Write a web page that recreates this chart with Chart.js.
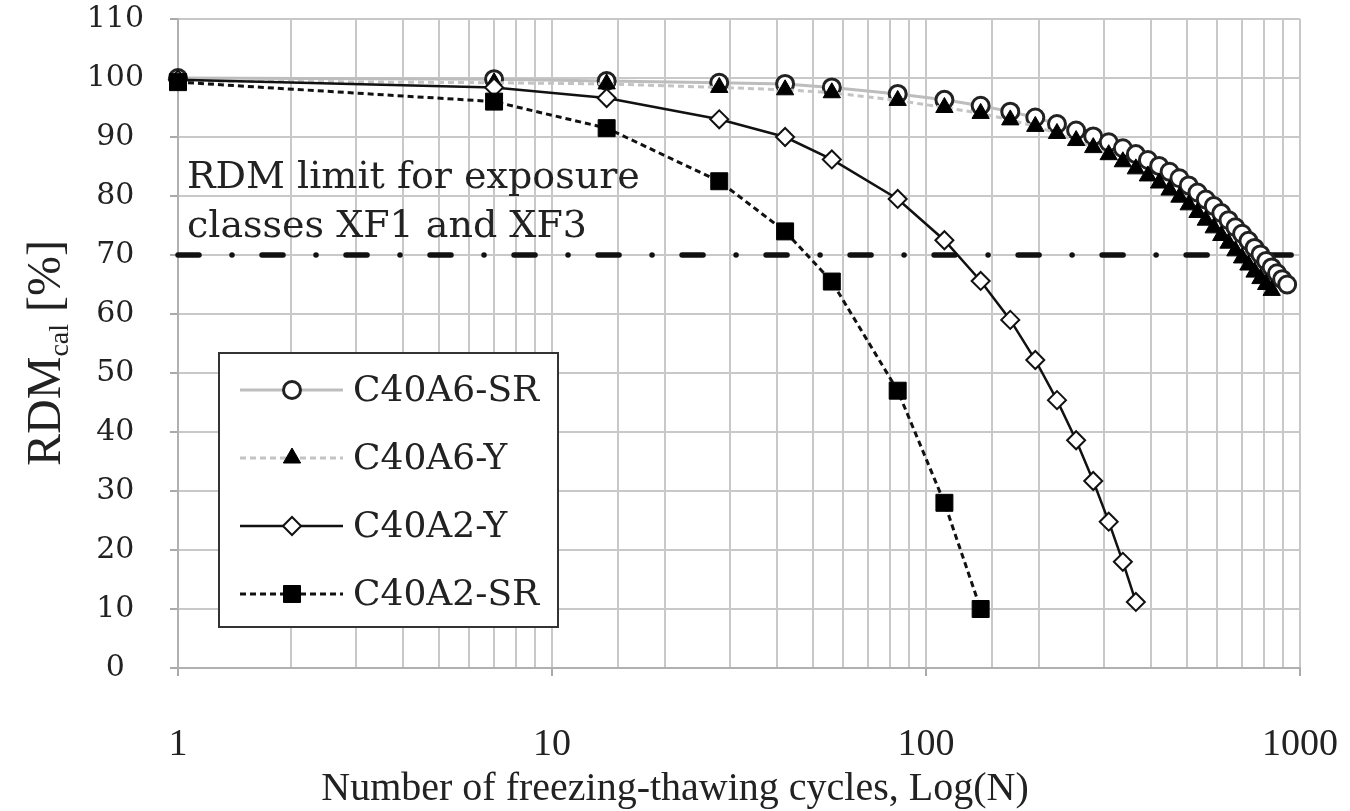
<!DOCTYPE html>
<html>
<head>
<meta charset="utf-8">
<title>RDM vs freezing-thawing cycles</title>
<script src="https://cdn.jsdelivr.net/npm/chart.js"></script>
<style>
  html, body { margin: 0; padding: 0; background: #fff; }
  #wrap { width: 1350px; height: 811px; }
</style>
</head>
<body>
<div id="wrap"><canvas id="rdmChart" width="1350" height="811"></canvas></div>
<script>
// axis ticks
var xTickLabels = [1, 10, 100, 1000];
var yMin = 0, yMax = 110, yStep = 10;
var limitRDM = 70;

// C40A6-SR (open circles)
var cyclesA6SR = [1, 7, 14, 28, 42, 56, 84, 112, 140, 168, 196, 224, 252, 280, 308, 336, 364, 392, 420,
                  448, 476, 504, 532, 560, 588, 616, 644, 672, 700, 728, 756, 784, 812, 840, 868, 896, 924];
var rdmA6SR    = [100, 99.8, 99.5, 99.2, 99, 98.4, 97.3, 96.3, 95.3, 94.3, 93.3, 92.2, 91.1, 90.1, 89.1, 88.1, 87.1, 86.1, 85.1,
                  84.1, 83, 81.8, 80.6, 79.4, 78.3, 77.1, 75.9, 74.7, 73.6, 72.4, 71.2, 70.1, 69, 67.9, 66.9, 65.9, 65];

// C40A6-Y (filled triangles)
var cyclesA6Y = [1, 7, 14, 28, 42, 56, 84, 112, 140, 168, 196, 224, 252, 280, 308, 336, 364, 392, 420,
                 448, 476, 504, 532, 560, 588, 616, 644, 672, 700, 728, 756, 784, 812, 840];
var rdmA6Y    = [99.5, 99.2, 99, 98.4, 98, 97.5, 96.2, 95, 94, 92.9, 91.8, 90.6, 89.4, 88.2, 87, 85.8, 84.6, 83.4, 82.2,
                 81, 79.8, 78.5, 77.2, 75.9, 74.6, 73.3, 72, 70.7, 69.5, 68.3, 67.1, 66, 65, 64];

// C40A2-Y (open diamonds)
var cyclesA2Y = [1, 7, 14, 28, 42, 56, 84, 112, 140, 168, 196, 224, 252, 280, 308, 336, 364];
var rdmA2Y    = [99.7, 98.4, 96.6, 93, 90, 86.2, 79.5, 72.5, 65.6, 59, 52.2, 45.4, 38.6, 31.7, 24.8, 18, 11.2];

// C40A2-SR (filled squares)
var cyclesA2SR = [1, 7, 14, 28, 42, 56, 84, 112, 140];
var rdmA2SR    = [99.3, 96, 91.5, 82.5, 74, 65.5, 47, 28, 10];

var serifWide = "'DejaVu Serif', Georgia, serif";
var serifNarrow = "'Liberation Serif', 'Times New Roman', serif";
var gridGray = '#c8c8c8';

function toPoints(xs, ys) {
    return xs.map(function(x, i) { return { x: x, y: ys[i] }; });
}

function isDecade(v) {
    return xTickLabels.some(function(t) { return Math.abs(t - v) < 1e-6; });
}

var series = [
    { label: 'C40A6-SR', xs: cyclesA6SR, ys: rdmA6SR, line: '#bdbdbd', dash: [], lw: 3,
      style: 'circle', r: 8.5, fill: '#ffffff', edge: '#222', bw: 3, order: 4 },
    { label: 'C40A6-Y', xs: cyclesA6Y, ys: rdmA6Y, line: '#c4c4c4', dash: [6, 4], lw: 3,
      style: 'triangle', r: 10, fill: '#000000', edge: '#000', bw: 1, order: 3 },
    { label: 'C40A2-Y', xs: cyclesA2Y, ys: rdmA2Y, line: '#111111', dash: [], lw: 2.5,
      style: 'rectRot', r: 9, fill: '#ffffff', edge: '#111', bw: 2, order: 2 },
    { label: 'C40A2-SR', xs: cyclesA2SR, ys: rdmA2SR, line: '#111111', dash: [6, 4], lw: 3,
      style: 'rect', r: 12, fill: '#000000', edge: '#000', bw: 1, order: 1 }
];

var datasets = series.map(function(s) {
    return {
        label: s.label,
        data: toPoints(s.xs, s.ys),
        borderColor: s.line,
        borderWidth: s.lw,
        borderDash: s.dash,
        pointStyle: s.style,
        pointRadius: s.r,
        pointBackgroundColor: s.fill,
        pointBorderColor: s.edge,
        pointBorderWidth: s.bw,
        tension: 0,
        clip: false,
        order: s.order
    };
});

datasets.push({
    label: 'RDM limit',
    data: [{ x: xTickLabels[0], y: limitRDM }, { x: xTickLabels[xTickLabels.length - 1], y: limitRDM }],
    borderColor: '#111',
    borderWidth: 5.5,
    borderDash: [21, 33, 0.01, 30],
    borderCapStyle: 'round',
    pointRadius: 0,
    clip: false,
    order: 5
});

function drawMarker(ctx, s, x, y) {
    ctx.save();
    ctx.fillStyle = s.fill;
    ctx.strokeStyle = s.edge;
    ctx.lineWidth = s.bw;
    Chart.helpers.drawPoint(ctx, { pointStyle: s.style, radius: s.r, rotation: 0, borderWidth: s.bw }, x, y);
    ctx.restore();
}

var extras = {
    id: 'extras',
    beforeDatasetsDraw: function(chart) {
        var ctx = chart.ctx;
        var left = chart.chartArea.left;
        ctx.save();
        ctx.fillStyle = '#222';
        ctx.font = '38px ' + serifWide;
        ctx.textBaseline = 'alphabetic';
        ctx.fillText('RDM limit for exposure', left + 9, 188);
        ctx.fillText('classes XF1 and XF3', left + 9, 237);
        ctx.restore();
    },
    afterDraw: function(chart) {
        var ctx = chart.ctx;

        // legend box
        var bx = 219, by = 353, bw = 339, bh = 274;
        ctx.save();
        ctx.fillStyle = '#fff';
        ctx.fillRect(bx, by, bw, bh);
        ctx.strokeStyle = '#333';
        ctx.lineWidth = 2;
        ctx.strokeRect(bx, by, bw, bh);
        series.forEach(function(s, i) {
            var y = 390 + i * 68;
            ctx.save();
            ctx.strokeStyle = s.line;
            ctx.lineWidth = s.lw;
            ctx.setLineDash(s.dash);
            ctx.beginPath();
            ctx.moveTo(240, y);
            ctx.lineTo(343, y);
            ctx.stroke();
            ctx.restore();
            drawMarker(ctx, s, 292, y);
            ctx.fillStyle = '#222';
            ctx.font = '36px ' + serifWide;
            ctx.textBaseline = 'middle';
            ctx.fillText(s.label, 353, y + 2);
        });
        ctx.restore();

        // x axis title, centred on the page like the source figure
        ctx.save();
        ctx.fillStyle = '#222';
        ctx.font = '40px ' + serifNarrow;
        ctx.textAlign = 'center';
        ctx.textBaseline = 'middle';
        ctx.fillText('Number of freezing-thawing cycles, Log(N)', 675, 789);
        ctx.restore();

        // y axis title with subscript
        ctx.save();
        ctx.translate(45, 353);
        ctx.rotate(-Math.PI / 2);
        ctx.fillStyle = '#222';
        ctx.textBaseline = 'alphabetic';
        var big = '48px ' + serifNarrow, small = '28px ' + serifNarrow;
        ctx.font = big;
        var w1 = ctx.measureText('RDM').width;
        var w3 = ctx.measureText(' [%]').width;
        ctx.font = small;
        var w2 = ctx.measureText('cal').width;
        var x0 = -(w1 + w2 + w3) / 2;
        var base = 15;
        ctx.font = big;
        ctx.fillText('RDM', x0, base);
        ctx.font = small;
        ctx.fillText('cal', x0 + w1, base + 8);
        ctx.font = big;
        ctx.fillText(' [%]', x0 + w1 + w2, base);
        ctx.restore();
    }
};

new Chart(document.getElementById('rdmChart').getContext('2d'), {
    type: 'line',
    data: { datasets: datasets },
    plugins: [extras],
    options: {
        responsive: false,
        animation: false,
        layout: { padding: { top: 19, right: 50, bottom: 0, left: 0 }, autoPadding: false },
        plugins: { legend: { display: false }, tooltip: { enabled: false } },
        scales: {
            x: {
                type: 'logarithmic',
                min: 1,
                max: 1000,
                afterFit: function(scale) {
                    scale.height = 143;
                    scale.paddingLeft = 0;
                    scale.paddingRight = 0;
                },
                grid: {
                    color: gridGray,
                    lineWidth: 2,
                    tickLength: 8,
                    tickColor: function(c) { return c.tick && isDecade(c.tick.value) ? '#aaa' : 'rgba(0,0,0,0)'; }
                },
                border: { color: '#b0b0b0', width: 2 },
                ticks: {
                    autoSkip: false,
                    maxRotation: 0,
                    minRotation: 0,
                    padding: 46,
                    color: '#222',
                    font: { family: serifNarrow, size: 38 },
                    callback: function(v) { return isDecade(v) ? String(Math.round(v)) : ''; }
                }
            },
            y: {
                min: yMin,
                max: yMax,
                afterFit: function(scale) {
                    scale.width = 178;
                    scale.paddingTop = 0;
                    scale.paddingBottom = 0;
                },
                grid: { color: gridGray, lineWidth: 2, tickLength: 8, tickColor: '#aaa' },
                border: { color: '#b0b0b0', width: 2 },
                ticks: {
                    stepSize: yStep,
                    crossAlign: 'center',
                    padding: 26,
                    color: '#222',
                    font: { family: serifWide, size: 30 }
                }
            }
        }
    }
});
</script>
</body>
</html>
